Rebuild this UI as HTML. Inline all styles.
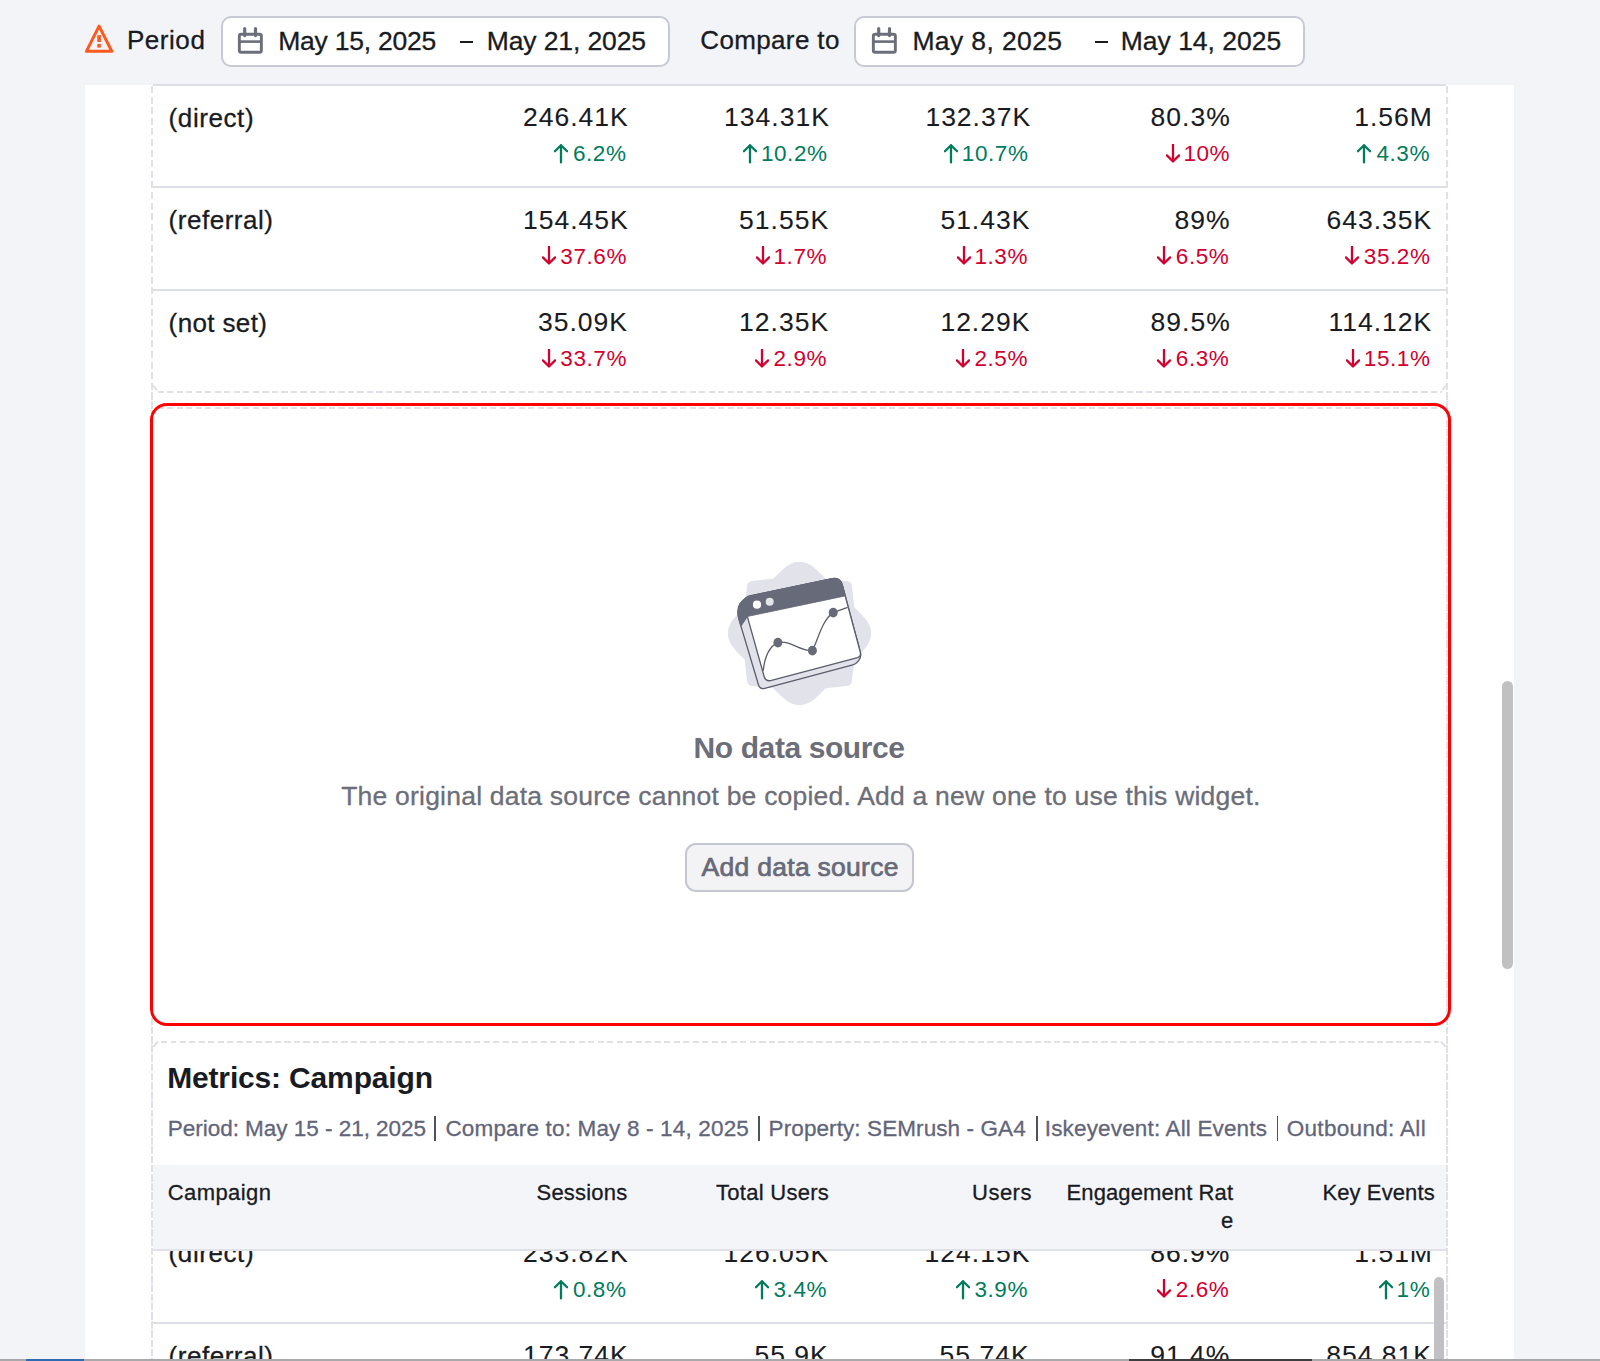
<!DOCTYPE html>
<html><head><meta charset="utf-8">
<style>
html,body{margin:0;padding:0;}
body{width:1600px;height:1361px;overflow:hidden;position:relative;background:#f3f4f8;font-family:"Liberation Sans",sans-serif;}
.t{position:absolute;white-space:nowrap;line-height:1;-webkit-text-stroke:0.3px currentColor;}
.abs{position:absolute;}
.dash-v{position:absolute;width:2px;background:repeating-linear-gradient(to bottom,#dfe0e8 0 7px,transparent 7px 10.6px);}
.dash-h{position:absolute;height:2px;background:repeating-linear-gradient(to right,#dfe0e8 0 6px,transparent 6px 9.5px);}
.sep{position:absolute;height:2px;background:#dddfe7;}
.dash-v2{position:absolute;width:2px;background:repeating-linear-gradient(to bottom,#dfe0e8 0 7.5px,transparent 7.5px 9.2px);}
</style></head><body>
<svg class="abs" style="left:84px;top:23px" width="31" height="31" viewBox="0 0 31 31">
<path d="M15.05 3.1 L27.8 28.3 H2.4 Z" fill="none" stroke="#ff5a1e" stroke-width="3" stroke-linejoin="round"/>
<rect x="13.3" y="12.1" width="3.6" height="6.9" fill="#ff5a1e"/>
<rect x="13.3" y="20.9" width="3.6" height="3.7" fill="#ff5a1e"/>
</svg>
<div class="t" style="left:126.90px;top:26.99px;font-size:26px;color:#191b23;font-weight:normal;letter-spacing:0.560px;">Period</div>
<div class="abs" style="left:220.6px;top:16px;width:445.9px;height:47px;border:2px solid #c7cad4;border-radius:10px;background:#fff"></div>
<svg class="abs" style="left:237px;top:27px" width="28" height="28" viewBox="0 0 28 28"><rect x="2.35" y="7.3" width="22" height="18" rx="1.8" fill="none" stroke="#6c6e79" stroke-width="2.9"/><line x1="2.35" y1="14.6" x2="24.35" y2="14.6" stroke="#6c6e79" stroke-width="2.6"/><line x1="7.7" y1="1.7" x2="7.7" y2="8.6" stroke="#6c6e79" stroke-width="3.2" stroke-linecap="round"/><line x1="18.5" y1="1.7" x2="18.5" y2="8.6" stroke="#6c6e79" stroke-width="3.2" stroke-linecap="round"/></svg>
<div class="t" style="left:278.25px;top:27.96px;font-size:26.5px;color:#191b23;font-weight:normal;letter-spacing:-0.241px;">May 15, 2025</div>
<div class="abs" style="left:460px;top:40.5px;width:13.25px;height:2px;background:#191b23"></div>
<div class="t" style="left:486.75px;top:27.96px;font-size:26.5px;color:#191b23;font-weight:normal;letter-spacing:-0.114px;">May 21, 2025</div>
<div class="t" style="left:700.25px;top:26.99px;font-size:26px;color:#191b23;font-weight:normal;letter-spacing:0.361px;">Compare to</div>
<div class="abs" style="left:854px;top:16px;width:447px;height:47px;border:2px solid #c7cad4;border-radius:10px;background:#fff"></div>
<svg class="abs" style="left:871px;top:27px" width="28" height="28" viewBox="0 0 28 28"><rect x="2.35" y="7.3" width="22" height="18" rx="1.8" fill="none" stroke="#6c6e79" stroke-width="2.9"/><line x1="2.35" y1="14.6" x2="24.35" y2="14.6" stroke="#6c6e79" stroke-width="2.6"/><line x1="7.7" y1="1.7" x2="7.7" y2="8.6" stroke="#6c6e79" stroke-width="3.2" stroke-linecap="round"/><line x1="18.5" y1="1.7" x2="18.5" y2="8.6" stroke="#6c6e79" stroke-width="3.2" stroke-linecap="round"/></svg>
<div class="t" style="left:912.40px;top:27.96px;font-size:26.5px;color:#191b23;font-weight:normal;letter-spacing:0.385px;">May 8, 2025</div>
<div class="abs" style="left:1094.7px;top:40.5px;width:13.299999999999955px;height:2px;background:#191b23"></div>
<div class="t" style="left:1120.80px;top:27.96px;font-size:26.5px;color:#191b23;font-weight:normal;letter-spacing:-0.018px;">May 14, 2025</div>
<div class="abs" style="left:85px;top:85px;width:1429px;height:1276px;background:#fff"></div>
<div class="abs" style="left:1502px;top:681px;width:11px;height:288px;border-radius:6px;background:#c1c1c4"></div>
<div class="dash-v" style="left:151px;top:86px;height:305px"></div>
<div class="dash-v" style="left:1446px;top:86px;height:305px"></div>
<div class="dash-v2" style="left:151px;top:392px;height:969px"></div>
<div class="dash-v2" style="left:1446px;top:392px;height:969px"></div>
<div class="sep" style="left:153px;top:84px;width:1293px"></div>
<div class="sep" style="left:153px;top:186px;width:1293px"></div>
<div class="sep" style="left:153px;top:289px;width:1293px"></div>
<div class="dash-h" style="left:158px;top:390.5px;width:1284px"></div>
<div class="t" style="left:168.60px;top:104.99px;font-size:26px;color:#191b23;font-weight:normal;letter-spacing:0.586px;">(direct)</div>
<div class="t" style="left:523.00px;top:104.06px;font-size:26.5px;color:#191b23;font-weight:normal;letter-spacing:1.000px;-webkit-text-stroke:0.1px #191b23;">246.41K</div>
<div class="t" style="left:572.90px;top:143.35px;font-size:22.5px;color:#007c5c;font-weight:normal;letter-spacing:0.600px;-webkit-text-stroke:0px #007c5c;">6.2%</div>
<svg class="abs" style="left:554.10px;top:143.40px" width="14" height="21" viewBox="0 0 14 21"><path d="M7 2.2V19.4 M0.9 8.3L7 2.2L13.1 8.3" stroke="#007c5c" stroke-width="2.3" fill="none" stroke-linecap="round" stroke-linejoin="round"/></svg>
<div class="t" style="left:724.10px;top:104.06px;font-size:26.5px;color:#191b23;font-weight:normal;letter-spacing:1.000px;-webkit-text-stroke:0.1px #191b23;">134.31K</div>
<div class="t" style="left:760.90px;top:143.35px;font-size:22.5px;color:#007c5c;font-weight:normal;letter-spacing:0.600px;-webkit-text-stroke:0px #007c5c;">10.2%</div>
<svg class="abs" style="left:743.10px;top:143.40px" width="14" height="21" viewBox="0 0 14 21"><path d="M7 2.2V19.4 M0.9 8.3L7 2.2L13.1 8.3" stroke="#007c5c" stroke-width="2.3" fill="none" stroke-linecap="round" stroke-linejoin="round"/></svg>
<div class="t" style="left:925.40px;top:104.06px;font-size:26.5px;color:#191b23;font-weight:normal;letter-spacing:1.000px;-webkit-text-stroke:0.1px #191b23;">132.37K</div>
<div class="t" style="left:961.80px;top:143.35px;font-size:22.5px;color:#007c5c;font-weight:normal;letter-spacing:0.600px;-webkit-text-stroke:0px #007c5c;">10.7%</div>
<svg class="abs" style="left:944.00px;top:143.40px" width="14" height="21" viewBox="0 0 14 21"><path d="M7 2.2V19.4 M0.9 8.3L7 2.2L13.1 8.3" stroke="#007c5c" stroke-width="2.3" fill="none" stroke-linecap="round" stroke-linejoin="round"/></svg>
<div class="t" style="left:1150.60px;top:104.06px;font-size:26.5px;color:#191b23;font-weight:normal;letter-spacing:1.000px;-webkit-text-stroke:0.1px #191b23;">80.3%</div>
<div class="t" style="left:1183.40px;top:143.35px;font-size:22.5px;color:#d1002f;font-weight:normal;letter-spacing:0.600px;-webkit-text-stroke:0px #d1002f;">10%</div>
<svg class="abs" style="left:1165.60px;top:143.90px" width="14" height="21" viewBox="0 0 14 21"><path d="M7 0.8V17.5 M0.9 11.4L7 17.5L13.1 11.4" stroke="#d1002f" stroke-width="2.3" fill="none" stroke-linecap="round" stroke-linejoin="round"/></svg>
<div class="t" style="left:1354.20px;top:104.06px;font-size:26.5px;color:#191b23;font-weight:normal;letter-spacing:1.000px;-webkit-text-stroke:0.1px #191b23;">1.56M</div>
<div class="t" style="left:1376.40px;top:143.35px;font-size:22.5px;color:#007c5c;font-weight:normal;letter-spacing:0.600px;-webkit-text-stroke:0px #007c5c;">4.3%</div>
<svg class="abs" style="left:1356.60px;top:143.40px" width="14" height="21" viewBox="0 0 14 21"><path d="M7 2.2V19.4 M0.9 8.3L7 2.2L13.1 8.3" stroke="#007c5c" stroke-width="2.3" fill="none" stroke-linecap="round" stroke-linejoin="round"/></svg>
<div class="t" style="left:168.60px;top:207.49px;font-size:26px;color:#191b23;font-weight:normal;letter-spacing:0.522px;">(referral)</div>
<div class="t" style="left:523.00px;top:206.56px;font-size:26.5px;color:#191b23;font-weight:normal;letter-spacing:1.000px;-webkit-text-stroke:0.1px #191b23;">154.45K</div>
<div class="t" style="left:560.30px;top:245.85px;font-size:22.5px;color:#d1002f;font-weight:normal;letter-spacing:0.600px;-webkit-text-stroke:0px #d1002f;">37.6%</div>
<svg class="abs" style="left:541.50px;top:246.40px" width="14" height="21" viewBox="0 0 14 21"><path d="M7 0.8V17.5 M0.9 11.4L7 17.5L13.1 11.4" stroke="#d1002f" stroke-width="2.3" fill="none" stroke-linecap="round" stroke-linejoin="round"/></svg>
<div class="t" style="left:739.10px;top:206.56px;font-size:26.5px;color:#191b23;font-weight:normal;letter-spacing:1.000px;-webkit-text-stroke:0.1px #191b23;">51.55K</div>
<div class="t" style="left:773.50px;top:245.85px;font-size:22.5px;color:#d1002f;font-weight:normal;letter-spacing:0.600px;-webkit-text-stroke:0px #d1002f;">1.7%</div>
<svg class="abs" style="left:755.70px;top:246.40px" width="14" height="21" viewBox="0 0 14 21"><path d="M7 0.8V17.5 M0.9 11.4L7 17.5L13.1 11.4" stroke="#d1002f" stroke-width="2.3" fill="none" stroke-linecap="round" stroke-linejoin="round"/></svg>
<div class="t" style="left:940.40px;top:206.56px;font-size:26.5px;color:#191b23;font-weight:normal;letter-spacing:1.000px;-webkit-text-stroke:0.1px #191b23;">51.43K</div>
<div class="t" style="left:974.40px;top:245.85px;font-size:22.5px;color:#d1002f;font-weight:normal;letter-spacing:0.600px;-webkit-text-stroke:0px #d1002f;">1.3%</div>
<svg class="abs" style="left:956.60px;top:246.40px" width="14" height="21" viewBox="0 0 14 21"><path d="M7 0.8V17.5 M0.9 11.4L7 17.5L13.1 11.4" stroke="#d1002f" stroke-width="2.3" fill="none" stroke-linecap="round" stroke-linejoin="round"/></svg>
<div class="t" style="left:1174.60px;top:206.56px;font-size:26.5px;color:#191b23;font-weight:normal;letter-spacing:1.000px;-webkit-text-stroke:0.1px #191b23;">89%</div>
<div class="t" style="left:1175.80px;top:245.85px;font-size:22.5px;color:#d1002f;font-weight:normal;letter-spacing:0.600px;-webkit-text-stroke:0px #d1002f;">6.5%</div>
<svg class="abs" style="left:1157.00px;top:246.40px" width="14" height="21" viewBox="0 0 14 21"><path d="M7 0.8V17.5 M0.9 11.4L7 17.5L13.1 11.4" stroke="#d1002f" stroke-width="2.3" fill="none" stroke-linecap="round" stroke-linejoin="round"/></svg>
<div class="t" style="left:1326.50px;top:206.56px;font-size:26.5px;color:#191b23;font-weight:normal;letter-spacing:1.000px;-webkit-text-stroke:0.1px #191b23;">643.35K</div>
<div class="t" style="left:1363.80px;top:245.85px;font-size:22.5px;color:#d1002f;font-weight:normal;letter-spacing:0.600px;-webkit-text-stroke:0px #d1002f;">35.2%</div>
<svg class="abs" style="left:1345.00px;top:246.40px" width="14" height="21" viewBox="0 0 14 21"><path d="M7 0.8V17.5 M0.9 11.4L7 17.5L13.1 11.4" stroke="#d1002f" stroke-width="2.3" fill="none" stroke-linecap="round" stroke-linejoin="round"/></svg>
<div class="t" style="left:168.60px;top:309.99px;font-size:26px;color:#191b23;font-weight:normal;letter-spacing:0.375px;">(not set)</div>
<div class="t" style="left:538.00px;top:309.06px;font-size:26.5px;color:#191b23;font-weight:normal;letter-spacing:1.000px;-webkit-text-stroke:0.1px #191b23;">35.09K</div>
<div class="t" style="left:560.30px;top:348.35px;font-size:22.5px;color:#d1002f;font-weight:normal;letter-spacing:0.600px;-webkit-text-stroke:0px #d1002f;">33.7%</div>
<svg class="abs" style="left:541.50px;top:348.90px" width="14" height="21" viewBox="0 0 14 21"><path d="M7 0.8V17.5 M0.9 11.4L7 17.5L13.1 11.4" stroke="#d1002f" stroke-width="2.3" fill="none" stroke-linecap="round" stroke-linejoin="round"/></svg>
<div class="t" style="left:739.10px;top:309.06px;font-size:26.5px;color:#191b23;font-weight:normal;letter-spacing:1.000px;-webkit-text-stroke:0.1px #191b23;">12.35K</div>
<div class="t" style="left:773.50px;top:348.35px;font-size:22.5px;color:#d1002f;font-weight:normal;letter-spacing:0.600px;-webkit-text-stroke:0px #d1002f;">2.9%</div>
<svg class="abs" style="left:754.70px;top:348.90px" width="14" height="21" viewBox="0 0 14 21"><path d="M7 0.8V17.5 M0.9 11.4L7 17.5L13.1 11.4" stroke="#d1002f" stroke-width="2.3" fill="none" stroke-linecap="round" stroke-linejoin="round"/></svg>
<div class="t" style="left:940.40px;top:309.06px;font-size:26.5px;color:#191b23;font-weight:normal;letter-spacing:1.000px;-webkit-text-stroke:0.1px #191b23;">12.29K</div>
<div class="t" style="left:974.40px;top:348.35px;font-size:22.5px;color:#d1002f;font-weight:normal;letter-spacing:0.600px;-webkit-text-stroke:0px #d1002f;">2.5%</div>
<svg class="abs" style="left:955.60px;top:348.90px" width="14" height="21" viewBox="0 0 14 21"><path d="M7 0.8V17.5 M0.9 11.4L7 17.5L13.1 11.4" stroke="#d1002f" stroke-width="2.3" fill="none" stroke-linecap="round" stroke-linejoin="round"/></svg>
<div class="t" style="left:1150.60px;top:309.06px;font-size:26.5px;color:#191b23;font-weight:normal;letter-spacing:1.000px;-webkit-text-stroke:0.1px #191b23;">89.5%</div>
<div class="t" style="left:1175.80px;top:348.35px;font-size:22.5px;color:#d1002f;font-weight:normal;letter-spacing:0.600px;-webkit-text-stroke:0px #d1002f;">6.3%</div>
<svg class="abs" style="left:1157.00px;top:348.90px" width="14" height="21" viewBox="0 0 14 21"><path d="M7 0.8V17.5 M0.9 11.4L7 17.5L13.1 11.4" stroke="#d1002f" stroke-width="2.3" fill="none" stroke-linecap="round" stroke-linejoin="round"/></svg>
<div class="t" style="left:1328.50px;top:309.06px;font-size:26.5px;color:#191b23;font-weight:normal;letter-spacing:1.000px;-webkit-text-stroke:0.1px #191b23;">114.12K</div>
<div class="t" style="left:1363.80px;top:348.35px;font-size:22.5px;color:#d1002f;font-weight:normal;letter-spacing:0.600px;-webkit-text-stroke:0px #d1002f;">15.1%</div>
<svg class="abs" style="left:1346.00px;top:348.90px" width="14" height="21" viewBox="0 0 14 21"><path d="M7 0.8V17.5 M0.9 11.4L7 17.5L13.1 11.4" stroke="#d1002f" stroke-width="2.3" fill="none" stroke-linecap="round" stroke-linejoin="round"/></svg>
<div class="dash-h" style="left:158px;top:407px;width:1284px"></div>
<svg class="abs" style="left:710px;top:550px" width="180" height="170" viewBox="710 550 180 170"><path d="M753.00 581.00 Q799.50 574.00 846.00 581.00 Q852.00 581.00 852.00 587.00 Q859.00 633.50 852.00 680.00 Q852.00 686.00 846.00 686.00 Q799.50 693.00 753.00 686.00 Q747.00 686.00 747.00 680.00 Q740.00 633.50 747.00 587.00 Q747.00 581.00 753.00 581.00 Z" fill="#e1e2ea"/><path d="M781.12 570.99 Q799.50 552.61 817.88 570.99 L862.01 615.12 Q880.39 633.50 862.01 651.88 L817.88 696.01 Q799.50 714.39 781.12 696.01 L736.99 651.88 Q718.61 633.50 736.99 615.12 Z" fill="#e1e2ea"/><path d="M739.30 620.68 Q733.00 599.60 754.53 595.06 L832.27 578.65 Q840.10 577.00 842.18 584.73 L860.46 652.74 Q861.50 656.60 859.07 659.78 L857.52 661.82 Q855.70 664.20 852.80 664.97 L764.73 688.32 Q759.90 689.60 758.47 684.81 Z" fill="#e1e2ea" stroke="#5a5d6b" stroke-width="1.3" stroke-linejoin="round"/><path d="M744.43 606.17 Q742.00 597.50 750.81 595.66 L831.29 578.84 Q840.10 577.00 842.44 585.69 L860.20 651.77 Q861.50 656.60 856.67 657.88 L771.50 680.46 Q765.70 682.00 764.08 676.22 Z" fill="#fff" stroke="#5a5d6b" stroke-width="1.3" stroke-linejoin="round"/><path d="M747.59 616.41 Q747.60 616.40 747.61 616.40 L845.29 595.90 Q845.30 595.90 845.30 595.89 L842.49 585.68 Q840.10 577.00 831.29 578.86 L754.53 595.06 Q733.00 599.60 739.27 620.69 L740.93 626.27 Q740.93 626.28 740.94 626.27 Z" fill="#676a78" stroke="#676a78" stroke-width="0.8" stroke-linejoin="round"/><circle cx="757" cy="604.7" r="4.1" fill="#fff"/><circle cx="769.7" cy="601.8" r="4" fill="#e4e5ec"/><path d="M763.2 670.6 C765 655 770 646 777.9 642.6 C790 639.5 800 651.5 812.4 650.6 C818 640 822 620 833.2 612.6 L847.6 607.4" fill="none" stroke="#5a5d6b" stroke-width="1.3"/><ellipse cx="777.9" cy="642.6" rx="4.5" ry="4.9" fill="#676a78"/><ellipse cx="812.4" cy="650.6" rx="4.5" ry="4.9" fill="#676a78"/><ellipse cx="833.2" cy="612.6" rx="4.5" ry="4.9" fill="#676a78"/></svg>
<div class="t" style="left:693.60px;top:733.20px;font-size:30px;color:#6c6e79;font-weight:bold;letter-spacing:-0.408px;-webkit-text-stroke:0px #6c6e79;">No data source</div>
<div class="t" style="left:341.20px;top:782.96px;font-size:26.5px;color:#6c6e79;font-weight:normal;letter-spacing:0.215px;">The original data source cannot be copied. Add a new one to use this widget.</div>
<div class="abs" style="left:684.7px;top:842.8px;width:225.7px;height:45.7px;border:2px solid #c4c7d0;border-radius:11px;background:#f3f3f6"></div>
<div class="t" style="left:701.60px;top:853.76px;font-size:26.5px;color:#676a78;font-weight:normal;letter-spacing:0.279px;-webkit-text-stroke:0.7px #676a78;">Add data source</div>
<div class="abs" style="left:150px;top:403px;width:1295px;height:617px;border:3px solid #ff0000;border-radius:17px"></div>
<div class="dash-h" style="left:161px;top:1040.5px;width:1278px"></div>
<div class="t" style="left:167.20px;top:1063.00px;font-size:30px;color:#191b23;font-weight:bold;letter-spacing:-0.162px;-webkit-text-stroke:0px #191b23;">Metrics: Campaign</div>
<div class="t" style="left:167.75px;top:1117.95px;font-size:22.5px;color:#62657a;font-weight:normal;letter-spacing:-0.023px;">Period: May 15 - 21, 2025</div>
<div class="t" style="left:445.40px;top:1117.95px;font-size:22.5px;color:#62657a;font-weight:normal;letter-spacing:0.170px;">Compare to: May 8 - 14, 2025</div>
<div class="t" style="left:768.60px;top:1117.95px;font-size:22.5px;color:#62657a;font-weight:normal;letter-spacing:0.091px;">Property: SEMrush - GA4</div>
<div class="t" style="left:1044.80px;top:1117.95px;font-size:22.5px;color:#62657a;font-weight:normal;letter-spacing:0.157px;">Iskeyevent: All Events</div>
<div class="t" style="left:1286.70px;top:1117.95px;font-size:22.5px;color:#62657a;font-weight:normal;letter-spacing:0.325px;">Outbound: All</div>
<div class="abs" style="left:434.4px;top:1115.5px;width:1.6px;height:25px;background:#4f5263"></div>
<div class="abs" style="left:758.0px;top:1115.5px;width:1.6px;height:25px;background:#4f5263"></div>
<div class="abs" style="left:1036.2px;top:1115.5px;width:1.6px;height:25px;background:#4f5263"></div>
<div class="abs" style="left:1276.7px;top:1115.5px;width:1.6px;height:25px;background:#4f5263"></div>
<div class="t" style="left:168.60px;top:1240.49px;font-size:26px;color:#191b23;font-weight:normal;letter-spacing:0.586px;">(direct)</div>
<div class="t" style="left:523.00px;top:1239.56px;font-size:26.5px;color:#191b23;font-weight:normal;letter-spacing:1.000px;-webkit-text-stroke:0.1px #191b23;">233.82K</div>
<div class="t" style="left:572.90px;top:1278.65px;font-size:22.5px;color:#007c5c;font-weight:normal;letter-spacing:0.600px;-webkit-text-stroke:0px #007c5c;">0.8%</div>
<svg class="abs" style="left:554.10px;top:1278.70px" width="14" height="21" viewBox="0 0 14 21"><path d="M7 2.2V19.4 M0.9 8.3L7 2.2L13.1 8.3" stroke="#007c5c" stroke-width="2.3" fill="none" stroke-linecap="round" stroke-linejoin="round"/></svg>
<div class="t" style="left:723.50px;top:1239.56px;font-size:26.5px;color:#191b23;font-weight:normal;letter-spacing:1.000px;-webkit-text-stroke:0.1px #191b23;">126.05K</div>
<div class="t" style="left:773.50px;top:1278.65px;font-size:22.5px;color:#007c5c;font-weight:normal;letter-spacing:0.600px;-webkit-text-stroke:0px #007c5c;">3.4%</div>
<svg class="abs" style="left:754.70px;top:1278.70px" width="14" height="21" viewBox="0 0 14 21"><path d="M7 2.2V19.4 M0.9 8.3L7 2.2L13.1 8.3" stroke="#007c5c" stroke-width="2.3" fill="none" stroke-linecap="round" stroke-linejoin="round"/></svg>
<div class="t" style="left:924.60px;top:1239.56px;font-size:26.5px;color:#191b23;font-weight:normal;letter-spacing:1.000px;-webkit-text-stroke:0.1px #191b23;">124.15K</div>
<div class="t" style="left:974.40px;top:1278.65px;font-size:22.5px;color:#007c5c;font-weight:normal;letter-spacing:0.600px;-webkit-text-stroke:0px #007c5c;">3.9%</div>
<svg class="abs" style="left:955.60px;top:1278.70px" width="14" height="21" viewBox="0 0 14 21"><path d="M7 2.2V19.4 M0.9 8.3L7 2.2L13.1 8.3" stroke="#007c5c" stroke-width="2.3" fill="none" stroke-linecap="round" stroke-linejoin="round"/></svg>
<div class="t" style="left:1150.20px;top:1239.56px;font-size:26.5px;color:#191b23;font-weight:normal;letter-spacing:1.000px;-webkit-text-stroke:0.1px #191b23;">86.9%</div>
<div class="t" style="left:1175.80px;top:1278.65px;font-size:22.5px;color:#d1002f;font-weight:normal;letter-spacing:0.600px;-webkit-text-stroke:0px #d1002f;">2.6%</div>
<svg class="abs" style="left:1157.00px;top:1279.20px" width="14" height="21" viewBox="0 0 14 21"><path d="M7 0.8V17.5 M0.9 11.4L7 17.5L13.1 11.4" stroke="#d1002f" stroke-width="2.3" fill="none" stroke-linecap="round" stroke-linejoin="round"/></svg>
<div class="t" style="left:1354.30px;top:1239.56px;font-size:26.5px;color:#191b23;font-weight:normal;letter-spacing:1.000px;-webkit-text-stroke:0.1px #191b23;">1.51M</div>
<div class="t" style="left:1396.60px;top:1278.65px;font-size:22.5px;color:#007c5c;font-weight:normal;letter-spacing:0.600px;-webkit-text-stroke:0px #007c5c;">1%</div>
<svg class="abs" style="left:1378.80px;top:1278.70px" width="14" height="21" viewBox="0 0 14 21"><path d="M7 2.2V19.4 M0.9 8.3L7 2.2L13.1 8.3" stroke="#007c5c" stroke-width="2.3" fill="none" stroke-linecap="round" stroke-linejoin="round"/></svg>
<div class="t" style="left:168.60px;top:1342.99px;font-size:26px;color:#191b23;font-weight:normal;letter-spacing:0.522px;">(referral)</div>
<div class="t" style="left:523.00px;top:1342.06px;font-size:26.5px;color:#191b23;font-weight:normal;letter-spacing:1.000px;-webkit-text-stroke:0.1px #191b23;">173.74K</div>
<div class="t" style="left:754.50px;top:1342.06px;font-size:26.5px;color:#191b23;font-weight:normal;letter-spacing:1.000px;-webkit-text-stroke:0.1px #191b23;">55.9K</div>
<div class="t" style="left:939.60px;top:1342.06px;font-size:26.5px;color:#191b23;font-weight:normal;letter-spacing:1.000px;-webkit-text-stroke:0.1px #191b23;">55.74K</div>
<div class="t" style="left:1150.20px;top:1342.06px;font-size:26.5px;color:#191b23;font-weight:normal;letter-spacing:1.000px;-webkit-text-stroke:0.1px #191b23;">91.4%</div>
<div class="t" style="left:1326.30px;top:1342.06px;font-size:26.5px;color:#191b23;font-weight:normal;letter-spacing:1.000px;-webkit-text-stroke:0.1px #191b23;">854.81K</div>
<div class="sep" style="left:153px;top:1322px;width:1293px"></div>
<div class="abs" style="left:153px;top:1165px;width:1293px;height:84px;background:#f4f5f9;border-bottom:2px solid #e0e1e9"></div>
<div class="t" style="left:167.75px;top:1181.67px;font-size:22px;color:#191b23;font-weight:normal;letter-spacing:0.421px;">Campaign</div>
<div class="t" style="left:536.50px;top:1181.87px;font-size:22px;color:#191b23;font-weight:normal;letter-spacing:0.214px;">Sessions</div>
<div class="t" style="left:716.00px;top:1181.87px;font-size:22px;color:#191b23;font-weight:normal;letter-spacing:0.275px;">Total Users</div>
<div class="t" style="left:972.00px;top:1181.87px;font-size:22px;color:#191b23;font-weight:normal;letter-spacing:0.500px;">Users</div>
<div class="t" style="left:1066.60px;top:1181.87px;font-size:22px;color:#191b23;font-weight:normal;letter-spacing:0.100px;">Engagement Rat</div>
<div class="t" style="left:1322.40px;top:1181.87px;font-size:22px;color:#191b23;font-weight:normal;letter-spacing:0.111px;">Key Events</div>
<div class="t" style="left:1220.90px;top:1210.37px;font-size:22px;color:#191b23;font-weight:normal;letter-spacing:0.000px;">e</div>
<div class="abs" style="left:1433.5px;top:1276.7px;width:10.5px;height:100px;border-radius:5.25px;background:#c1c1c4"></div>
<div class="abs" style="left:0;top:1359px;width:1600px;height:2px;background:#a9a9ab"></div>
<div class="abs" style="left:26px;top:1359px;width:58px;height:2px;background:#2d6cb5"></div>
<div class="abs" style="left:1129px;top:1359px;width:183px;height:2px;background:#3d3d40"></div>
<svg class="abs" style="left:0;top:0" width="1600" height="1361" viewBox="0 0 1600 1361">
<g stroke="#dfe0e8" stroke-width="2" stroke-linecap="round">
<line x1="153" y1="385.5" x2="156.5" y2="389.5"/>
<line x1="1446" y1="385.5" x2="1442.5" y2="389.5"/>
<line x1="154" y1="1046" x2="157.5" y2="1042"/>
<line x1="1445" y1="1046" x2="1441.5" y2="1042"/>
</g></svg>
</body></html>
